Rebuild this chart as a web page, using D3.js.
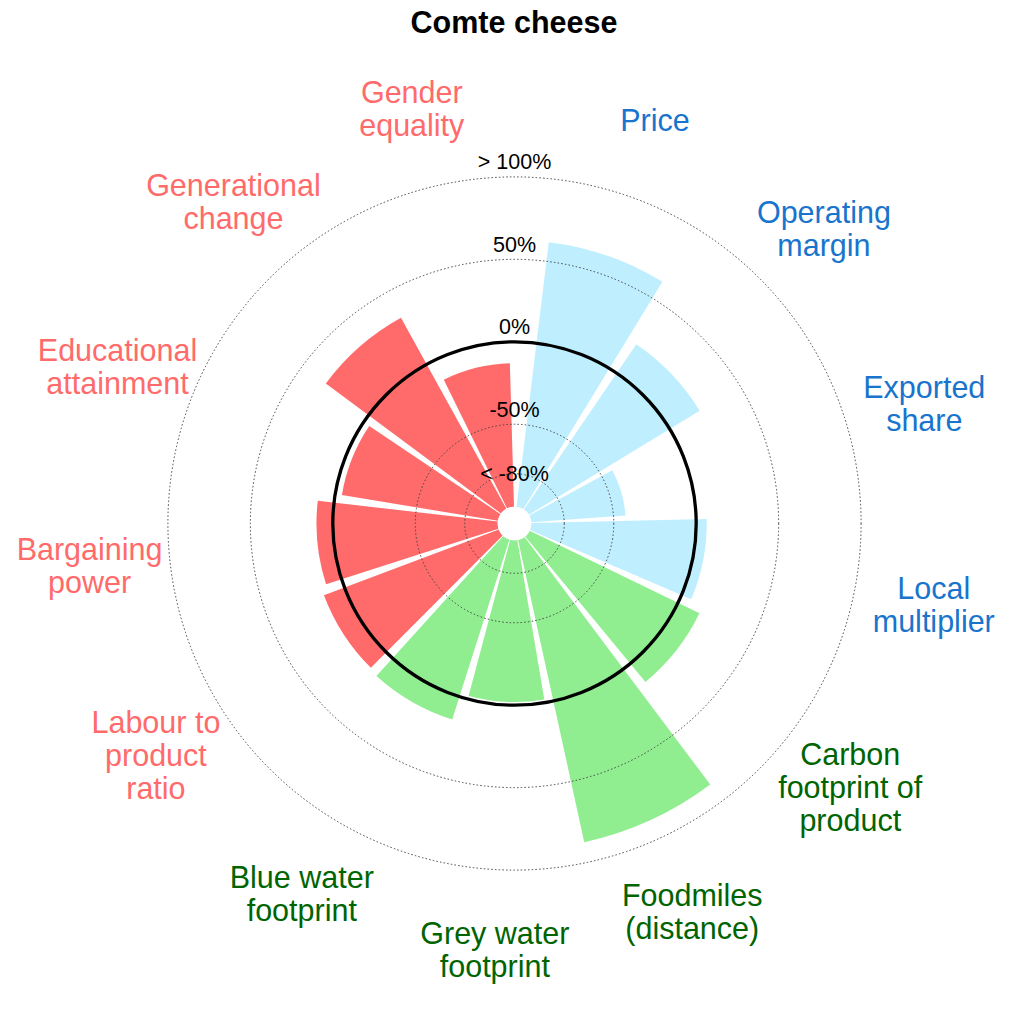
<!DOCTYPE html>
<html>
<head>
<meta charset="utf-8">
<script src="https://cdn.jsdelivr.net/npm/d3@7"></script>
<style>
  html, body { margin: 0; padding: 0; background: #fff; }
  svg { display: block; font-family: "Liberation Sans", Arial, sans-serif; }
</style>
</head>
<body>
<svg id="chart" width="1024" height="1024"></svg>
<script>
// ---- data ----
const title = "Comte cheese";
const categories = [
  "Price", "Operating\nmargin", "Exported\nshare", "Local\nmultiplier",
  "Carbon\nfootprint of\nproduct", "Foodmiles\n(distance)", "Grey water\nfootprint", "Blue water\nfootprint",
  "Labour to\nproduct\nratio", "Bargaining\npower", "Educational\nattainment", "Generational\nchange", "Gender\nequality"
];
const values = [61.7, 21.3, -42.7, 6.4, 14.5, 87.7, -1.9, 14.6, 13.3, 9.9, -4.1, 32.3, -13.0];
const groups = [
  "economic", "economic", "economic", "economic",
  "environmental", "environmental", "environmental", "environmental",
  "social", "social", "social", "social", "social"
];
const tickValues = [-80, -50, 0, 50, 100];
const tickLabels = ["< -80%", "-50%", "0%", "50%", "> 100%"];

// ---- styling ----
const barColor = { economic: "#BFEFFF", environmental: "#90EE90", social: "#FF6A6A" };
const textColor = { economic: "#1874CD", environmental: "#006400", social: "#FF6A6A" };

const svg = d3.select("#chart");
const cx = 514.5, cy = 523.5;
const g = svg.append("g").attr("transform", `translate(${cx},${cy})`);

const r = d3.scaleLinear().domain([-100, 100]).range([16.8, 346.6]);
const deg = Math.PI / 180;
const startDeg = 5.58, stepDeg = 27.24;
const theta = d3.scaleBand()
  .domain(categories)
  .range([startDeg * deg, (startDeg + stepDeg * categories.length) * deg])
  .paddingInner(0.1).paddingOuter(0.05);

const data = categories.map((c, i) => ({ c, v: values[i], grp: groups[i] }));

const arc = d3.arc()
  .innerRadius(r(-100))
  .outerRadius(d => r(Math.max(-100, Math.min(100, d.v))))
  .startAngle(d => theta(d.c))
  .endAngle(d => theta(d.c) + theta.bandwidth());

// bars
g.selectAll("path.bar").data(data).join("path")
  .attr("class", "bar")
  .attr("d", arc)
  .attr("fill", d => barColor[d.grp]);

// hole
g.append("circle").attr("r", r(-100)).attr("fill", "#fff");

// dotted grid circles
g.selectAll("circle.grid").data(tickValues.filter(v => v !== 0)).join("circle")
  .attr("class", "grid")
  .attr("r", d => r(d))
  .attr("fill", "none")
  .attr("stroke", "#444")
  .attr("stroke-width", 1)
  .attr("stroke-dasharray", "1.5,2.2");

// zero circle
g.append("circle").attr("r", r(0))
  .attr("fill", "none").attr("stroke", "#000").attr("stroke-width", 3.3);

// tick labels
g.selectAll("text.tick").data(tickValues).join("text")
  .attr("class", "tick")
  .attr("x", 0)
  .attr("y", (d, i) => -r(d) - (i === 0 ? 0 : 15))
  .attr("dy", "0.35em")
  .attr("text-anchor", "middle")
  .attr("font-size", 21.5)
  .attr("fill", "#000")
  .text((d, i) => tickLabels[i]);

// category labels
const labelR = 427, lineH = 33;
data.forEach(d => {
  const a = theta(d.c) + theta.bandwidth() / 2;
  const x = labelR * Math.sin(a), y = -labelR * Math.cos(a);
  const lines = d.c.split("\n");
  const t = g.append("text")
    .attr("text-anchor", "middle")
    .attr("font-size", 30.5)
    .attr("fill", textColor[d.grp]);
  lines.forEach((ln, k) => {
    t.append("tspan")
      .attr("x", x)
      .attr("y", y + (k - (lines.length - 1) / 2) * lineH)
      .attr("dy", "0.35em")
      .text(ln);
  });
});

// title
svg.append("text")
  .attr("x", 514).attr("y", 33)
  .attr("text-anchor", "middle")
  .attr("font-size", 30.5).attr("font-weight", "bold")
  .attr("fill", "#000")
  .text(title);
</script>
</body>
</html>
